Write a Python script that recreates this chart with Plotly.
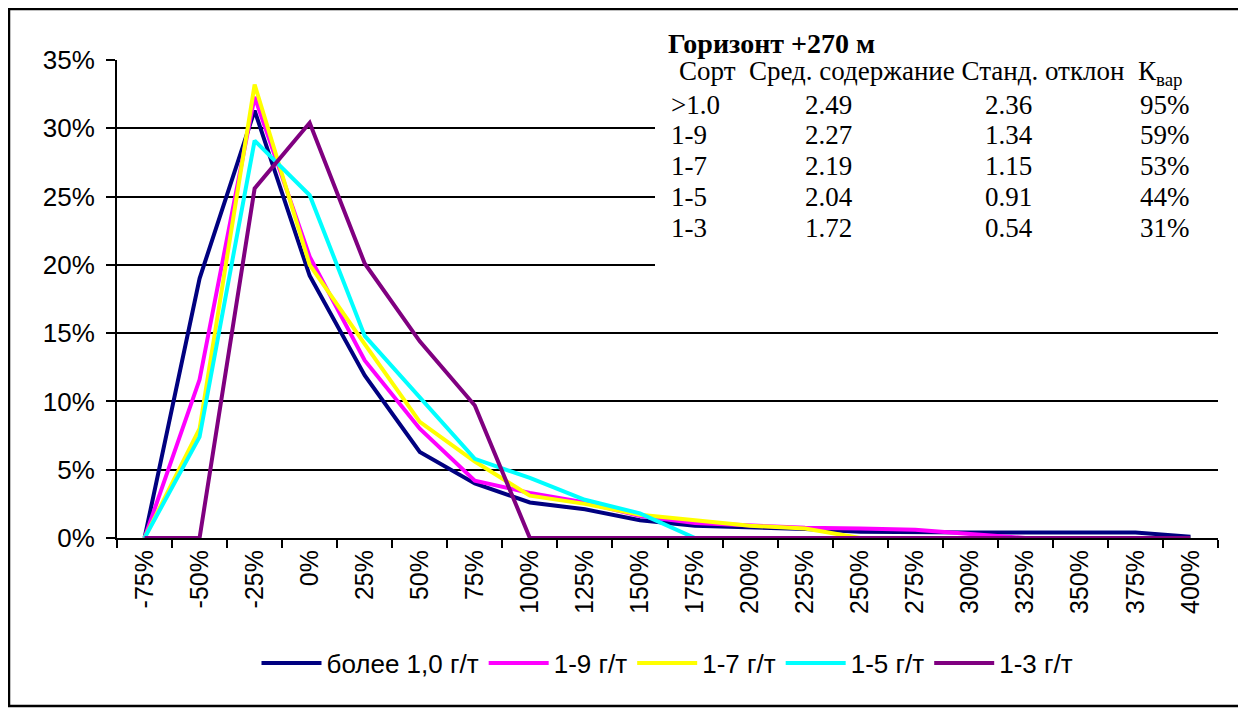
import plotly.graph_objects as go

# x categories (deviation from mean) and frequency share, %
categories = ["-75%", "-50%", "-25%", "0%", "25%", "50%", "75%", "100%", "125%", "150%",
              "175%", "200%", "225%", "250%", "275%", "300%", "325%", "350%", "375%", "400%"]

s_10 = [0, 19.0, 31.3, 19.2, 11.9, 6.3, 4.0, 2.6, 2.1, 1.3, 0.9, 0.8, 0.65, 0.45, 0.4, 0.4, 0.4, 0.4, 0.4, 0.1]
s_19 = [0, 11.6, 32.3, 20.6, 13.0, 8.0, 4.2, 3.3, 2.6, 1.6, 1.1, 0.9, 0.75, 0.7, 0.6, 0.3, 0, 0, 0, 0]
s_17 = [0, 8.0, 33.2, 20.0, 14.2, 8.5, 5.6, 3.1, 2.5, 1.7, 1.3, 0.9, 0.7, 0, 0, 0, 0, 0, 0, 0]
s_15 = [0, 7.4, 29.1, 25.1, 14.8, 10.3, 5.8, 4.4, 2.8, 1.8, 0, 0, 0, 0, 0, 0, 0, 0, 0, 0]
s_13 = [0, 0, 25.6, 30.4, 20.1, 14.4, 9.7, 0, 0, 0, 0, 0, 0, 0, 0, 0, 0, 0, 0, 0]

series_names = ["более 1,0 г/т", "1-9 г/т", "1-7 г/т", "1-5 г/т", "1-3 г/т"]
series_colors = ["#000080", "#FF00FF", "#FFFF00", "#00FFFF", "#800080"]

# stats table
table_title = "Горизонт +270 м"
table_header = "Сорт  Сред. содержание Станд. отклон  К<sub>вар</sub>"
grades = [">1.0", "1-9", "1-7", "1-5", "1-3"]
mean_grade = ["2.49", "2.27", "2.19", "2.04", "1.72"]
std_dev = ["2.36", "1.34", "1.15", "0.91", "0.54"]
k_var = ["95%", "59%", "53%", "44%", "31%"]

# page body has an 8px margin, so the figure starts at (8, 8) on screen
OFF = 8
W, H = 1246 - OFF, 713 - OFF
X0, X1, Y0, Y1 = 117, 1218, 60, 538   # plot area in screen pixels
PW, PH = X1 - X0, Y1 - Y0


def px_x(px):
    return (px - X0) / PW


def px_y(py):
    return (Y1 - py) / PH


fig = go.Figure()
for name, vals, col in zip(series_names, [s_10, s_19, s_17, s_15, s_13], series_colors):
    fig.add_trace(go.Scatter(x=categories, y=vals, name=name, mode="lines",
                             line=dict(color=col, width=4)))

# white box behind the table hides the gridlines
fig.add_shape(type="rect", xref="paper", yref="paper",
              x0=px_x(655), x1=1.0, y0=px_y(282), y1=px_y(28),
              fillcolor="white", line_width=0, layer="above")
# chart border
fig.add_shape(type="rect", xref="paper", yref="paper",
              x0=px_x(9), x1=px_x(1240), y0=px_y(706), y1=px_y(9),
              fillcolor="rgba(0,0,0,0)", line=dict(color="black", width=2.5))

serif = dict(family="Liberation Serif, Times New Roman", size=27, color="black")
fig.add_annotation(text="<b>" + table_title + "</b>", xref="paper", yref="paper",
                   x=px_x(666), y=px_y(44), xanchor="left", yanchor="middle",
                   showarrow=False, font=dict(serif, size=28))
fig.add_annotation(text=table_header, xref="paper", yref="paper", x=px_x(677), y=px_y(73),
                   xanchor="left", yanchor="middle", showarrow=False, font=serif)
row_y = [105, 135, 166, 197, 228]
for ry, g, m, s, k in zip(row_y, grades, mean_grade, std_dev, k_var):
    for cx, txt in zip([669, 803, 983, 1138], [g, m, s, k]):
        fig.add_annotation(text=txt, xref="paper", yref="paper", x=px_x(cx), y=px_y(ry),
                           xanchor="left", yanchor="middle", showarrow=False, font=serif)

fig.update_layout(
    width=W, height=H,
    margin=dict(l=X0 - OFF, r=1246 - X1, t=Y0 - OFF, b=713 - Y1),
    plot_bgcolor="white", paper_bgcolor="white",
    font=dict(family="Liberation Sans, Arial", size=26, color="black"),
    showlegend=True,
    legend=dict(orientation="h", x=0.5, xanchor="center", y=px_y(663), yanchor="middle",
                font=dict(size=26), itemwidth=60, traceorder="normal"),
)
fig.update_xaxes(type="category", tickangle=-90, showgrid=False, showline=True,
                 linecolor="black", linewidth=2, ticks="outside", tickson="boundaries",
                 ticklen=8, tickwidth=2, tickcolor="black", tickfont=dict(size=25),
                 range=[-0.5, len(categories) - 0.5])
fig.update_yaxes(range=[0, 35], dtick=5, ticksuffix="%", showgrid=True, gridcolor="black",
                 gridwidth=2, showline=True, linecolor="black", linewidth=2, zeroline=False,
                 ticks="outside", ticklen=9, tickwidth=2, tickcolor="black",
                 ticklabelstandoff=6, tickfont=dict(size=26))

fig.write_html("out.html")
